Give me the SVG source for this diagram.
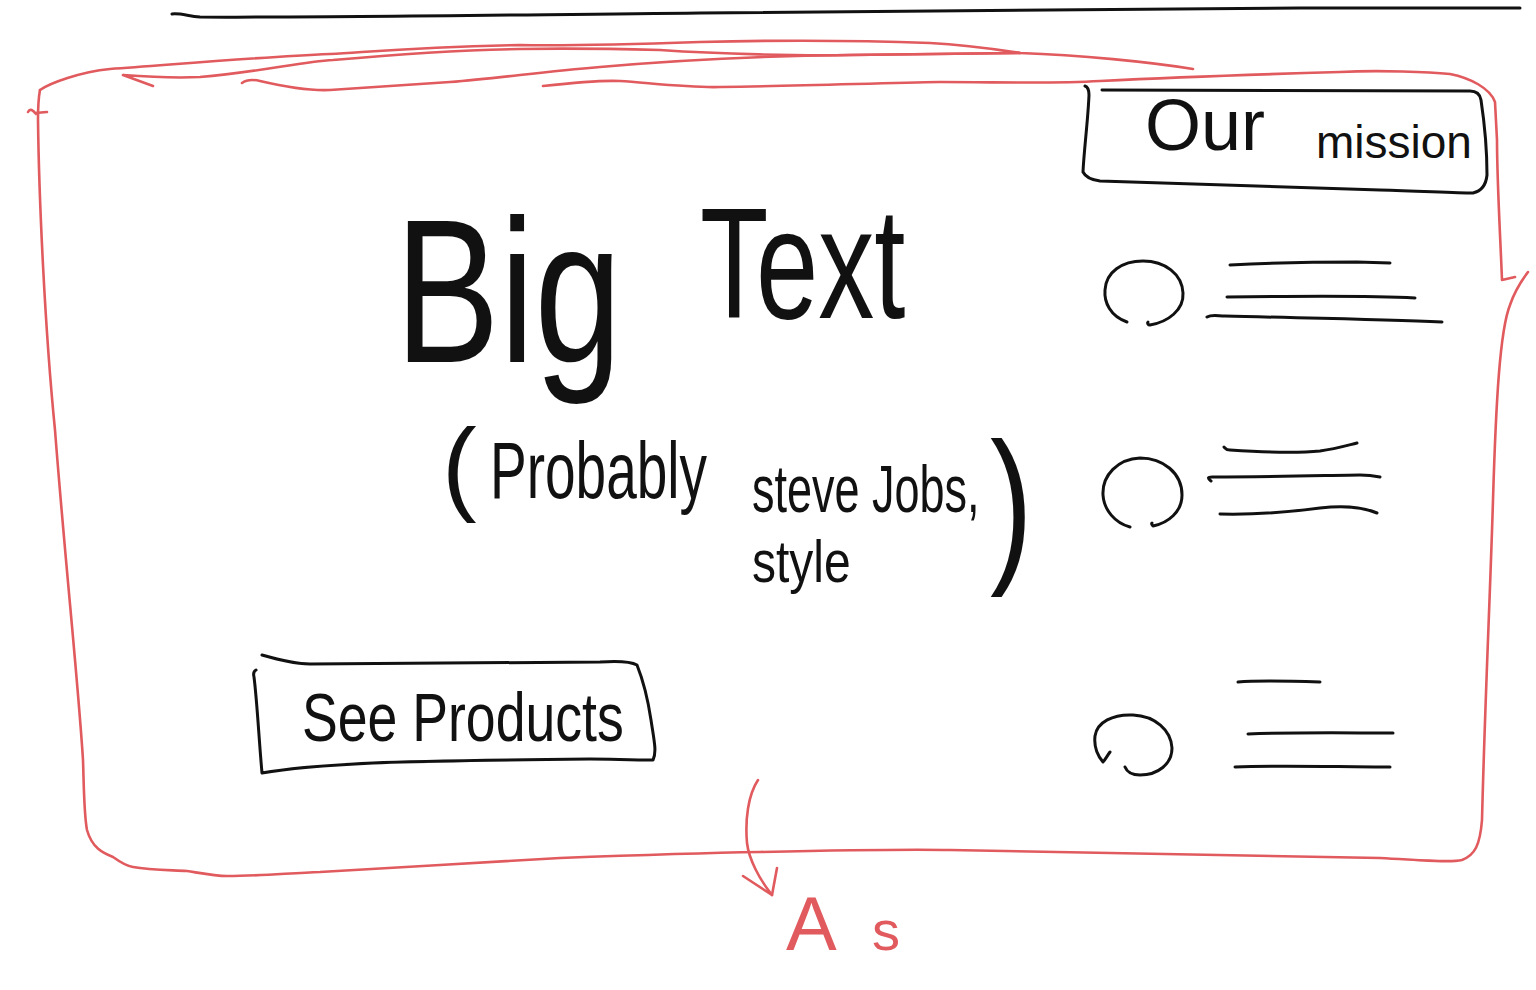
<svg xmlns="http://www.w3.org/2000/svg" width="1536" height="990" viewBox="0 0 1536 990">
<defs>
<style>
.ink{fill:none;stroke:#111;stroke-width:3;stroke-linecap:round;stroke-linejoin:round}
.red{fill:none;stroke:#e05a5e;stroke-width:2.6;stroke-linecap:round;stroke-linejoin:round}
.t{font-family:"Liberation Sans",Arial,sans-serif;fill:#111}
.rt{font-family:"Liberation Sans",Arial,sans-serif;fill:#e05a5e}
</style>
</defs>
<rect width="1536" height="990" fill="#fff"/>

<g id="top-rule">
<path class="ink" d="M172,14 C180,13 188,16 200,17 C300,18 500,15 700,13 C900,11 1100,9 1300,8 L1520,8"/>
</g>

<g id="page-frame">
<path class="red" d="M40,90 C50,83 80,72 110,69 C180,64 260,57 330,54 C380,51 420,47 520,45 C580,46 640,44 700,42 C780,40 850,40 930,43 C970,45 1000,50 1020,53 C1080,55 1150,62 1193,69"/>
<path class="red" d="M153,86 L123,75 C150,77 180,78 200,77 C260,72 300,62 333,60 C400,54 460,50 520,49 C580,48 620,49 660,50 C720,54 800,56 850,55 C920,54 980,53 1020,53"/>
<path class="red" d="M242,83 C246,80 252,79 260,81 C290,88 310,91 330,90 C380,87 420,84 450,82 C500,78 540,72 600,67 C680,60 760,56 850,55 L1020,53"/>
<path class="red" d="M543,86 C570,83 600,80 620,81 C650,83 690,88 720,87 C800,86 880,83 940,82 C1000,82 1050,84 1100,81 C1180,77 1270,74 1340,72 C1380,70 1430,72 1450,74 C1470,78 1490,88 1495,102 L1497,140 C1497,180 1500,230 1502,280 L1515,277"/>
<path class="red" d="M40,90 C38,100 38,110 38,120 C39,200 45,330 55,430 C65,560 78,680 83,760 C84,790 84,815 87,830 C92,848 103,853 113,857 C120,862 126,866 133,867 C150,870 170,870 187,871 C200,873 215,876 227,876 C260,876 290,873 320,872 C400,868 480,862 560,858 C640,855 700,853 760,852 C850,850 900,849 950,850 C1100,852 1250,855 1380,858 C1420,860 1450,863 1462,860 C1475,855 1480,845 1482,820 C1485,700 1490,600 1493,500 C1496,400 1500,330 1510,305 C1515,290 1522,280 1528,272"/>
<path class="red" d="M28,112 C30,108 33,110 36,114 M35,113 L47,112"/>
</g>

<g id="our-mission">
<path class="ink" d="M1085,86 C1088,87 1089,90 1089,95 C1088,120 1084,150 1083,172 C1086,178 1092,180 1100,181 C1180,184 1280,187 1380,190 C1420,191 1455,193 1473,193 C1482,191 1486,185 1487,175 C1487,150 1484,120 1481,100 C1480,94 1477,91 1470,91 L1102,90"/>
<text class="t" x="1145" y="150" font-size="72">Our <tspan x="1316" y="158" font-size="46">mission</tspan></text>
</g>

<g id="hero-title">
<text class="t" transform="translate(395,362) scale(1,1.306)" font-size="157">Big</text>
<text class="t" transform="translate(700,318) scale(1,1.41)" font-size="112">Text</text>
</g>

<g id="subtitle">
<text class="t" x="442" y="501" font-size="104">(</text>
<text class="t" transform="translate(490,498) scale(1,1.45)" font-size="55">Probably</text>
<text class="t" transform="translate(752,512) scale(1,1.47)" font-size="45">steve Jobs,</text>
<text class="t" transform="translate(752,582) scale(1,1.25)" font-size="48">style</text>
<text class="t" transform="translate(990,562) scale(0.75,1)" font-size="171">)</text>
</g>

<g id="see-products">
<path class="ink" d="M262,655 C280,660 295,664 310,664 C400,664 500,663 600,662 C615,661 630,661 637,665 C643,680 648,700 651,720 C654,740 657,752 653,760 C630,760 610,759 590,759 C500,760 420,761 373,763 C330,765 290,768 262,773 C259,740 257,700 254,677 C253,673 254,671 256,670"/>
<text class="t" transform="translate(302,741) scale(1,1.27)" font-size="53.6">See Products</text>
</g>

<g id="feature-1">
<path class="ink" d="M1127,322 C1110,316 1104,302 1105,290 C1106,272 1122,261 1143,261 C1165,261 1182,274 1183,293 C1184,310 1168,322 1150,325 C1148,325 1147,323 1148,322"/>
<path class="ink" d="M1230,265 C1270,263 1320,262 1357,262 L1390,263"/>
<path class="ink" d="M1227,297 C1300,296 1380,296 1415,298"/>
<path class="ink" d="M1207,317 C1212,314 1218,316 1225,316 C1300,318 1380,319 1442,322"/>
</g>

<g id="feature-2">
<path class="ink" d="M1130,527 C1115,523 1104,510 1103,495 C1102,475 1118,459 1140,458 C1163,458 1182,473 1182,495 C1182,512 1168,523 1153,526 C1152,525 1151,524 1152,523"/>
<path class="ink" d="M1224,447 C1226,449 1226,450 1230,450 C1260,452 1300,453 1320,451 C1335,449 1345,446 1357,443"/>
<path class="ink" d="M1211,481 C1207,478 1208,477 1212,477 C1280,477 1340,475 1360,475 C1370,475 1375,476 1380,477"/>
<path class="ink" d="M1220,514 C1260,515 1290,512 1320,508 C1345,505 1365,508 1377,513"/>
</g>

<g id="feature-3">
<path class="ink" d="M1110,752 C1107,756 1105,760 1103,762 C1097,755 1094,745 1095,736 C1097,722 1113,714 1133,715 C1155,716 1171,730 1172,748 C1172,764 1158,775 1140,775 C1132,775 1127,772 1125,767"/>
<path class="ink" d="M1238,682 C1260,680 1290,681 1320,682"/>
<path class="ink" d="M1248,734 C1300,732 1350,733 1393,733"/>
<path class="ink" d="M1235,767 C1280,765 1340,767 1390,767"/>
</g>

<g id="connectors">
<path class="red" d="M758,780 C748,795 745,820 747,843 C749,860 760,880 772,895"/>
<path class="red" d="M743,876 L772,895 L777,868"/>
</g>

<g id="note-as">
<text class="rt" x="786" y="950" font-size="76">A <tspan x="872" font-size="56">s</tspan></text>
</g>
</svg>
